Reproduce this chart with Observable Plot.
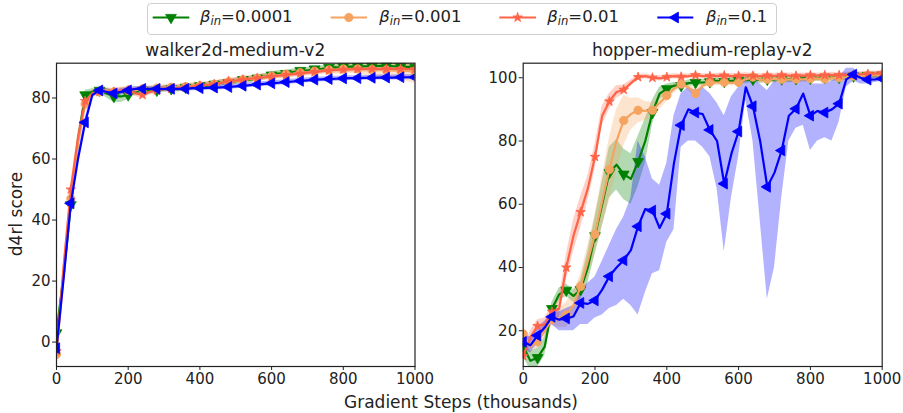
<!DOCTYPE html>
<html><head><meta charset="utf-8">
<script src="https://cdn.jsdelivr.net/npm/d3@7"></script>
<script src="https://cdn.jsdelivr.net/npm/@observablehq/plot@0.6"></script>
<style>
body{margin:0;background:#fff;font-family:"DejaVu Sans",sans-serif;color:#222;}
#root{position:relative;width:903px;height:413px;overflow:hidden;background:#fff;}
.abs{position:absolute;white-space:nowrap;}
.title{font-size:17px;text-align:center;line-height:20px;}
.lg{font-size:16.5px;line-height:20px;top:7px;}
.lg sub{font-size:0.7em;font-style:italic;vertical-align:-0.25em;}
</style></head><body><div id="root"></div>
<script>
// ---------- data ----------
const steps = [0,20,40,60,80,100,120,140,160,180,200,220,240,260,280,300,320,340,360,380,400,420,440,460,480,500,520,540,560,580,600,620,640,660,680,700,720,740,760,780,800,820,840,860,880,900,920,940,960,980,1000];
const seriesLabels = ["0.0001","0.001","0.01","0.1"];
const xTicks = [0,200,400,600,800,1000];
const walkerTicks = [0,20,40,60,80];
const hopperTicks = [20,40,60,80,100];

// walker2d-medium-v2
const walkerGreen = [3,22,45,66,81,82,82.5,81.5,80.5,80.5,81,82,82.5,82.5,82.5,83,83,83,83.5,83.5,84,84,84.5,85,85,85.5,86,86,86.5,87,87.5,88,88,88.5,89,89,89.5,89.5,90,90,90.2,90.3,90.3,90.4,90.4,90.5,90.5,90.4,90.3,90.2,90];
const walkerOrange = [-4,22,47,65,78,81.5,82,82.5,82,82.5,82.5,82.5,83,83,83.2,83.4,83.5,83.5,83.7,84,84,84.3,84.5,85,85.3,85.5,86,86.2,86.5,87,87.2,87.5,87.8,88,88.3,88.5,88.8,89,89.2,89.3,89.5,89.5,89.5,89.4,89.3,89.2,89.2,89,89,88.8,88.7];
const walkerRed = [-3,25,50,67,79,81.5,82,82,82,82.5,82.5,81.5,81,82,82.5,83,83,83.3,83.5,83.8,84,84.3,84.5,85,85.5,85.7,86,86.3,86.5,86.8,87,87.3,87.5,87.8,88,88.3,88.5,88.8,89,89.2,89.3,89.4,89.5,89.5,89.5,89.5,89.5,89.5,89.5,89.5,89.5];
const walkerBlue = [-2,21,45.5,60,72,81,82.5,82,81.5,82,82.5,83,83,83,83,83,83,83,83,83.2,83.2,83.3,83.4,83.5,83.6,83.8,84,84.2,84.4,84.6,84.8,85,85.2,85.4,85.6,85.8,86,86.1,86.2,86.3,86.4,86.5,86.5,86.6,86.6,86.7,86.7,86.7,86.8,86.8,86.8];
const walkerGreenSd = [1.5,2,2,2,1.5,1,1,1.5,2,2,1.5,1,1,1,1,1,1,1,1,1,1,1,1,1,1,1,1,1,1,1,1,1,1,1,1,1,1,1,1,1,1,1,1,1,1,1,1,1,1,1,1];
const walkerOrangeSd = [1.5,2,2,2,1.5,1,1,1,1,1,1,1,1,1,1,1,1,1,1,1,1,1,1,1,1,1,1,1,1,1,1,1,1,1,1,1,1,1,1.2,1.5,1.5,1.5,1.5,2,2.5,3,3,3,3,3.5,4];
const walkerRedSd = [1.5,2,2,2,1.5,1,1,1,1,1,1,1,1.2,1,1,1,1,1,1,1,1,1,1,1,1,1,1,1,1,1,1,1,1,1,1,1,1,1,1,1,1,1,1,1,1,1,1,1,1,1,1];
const walkerBlueSd = [1.5,2,2,2,1.5,1,1,1,1,1,1,0.8,0.8,0.8,0.8,0.8,0.8,0.8,0.8,0.8,0.8,0.8,0.8,0.8,0.8,0.8,0.8,0.8,0.8,0.8,0.8,0.8,0.8,0.8,0.8,0.8,0.8,0.8,0.8,0.8,0.8,0.8,0.8,0.8,0.8,0.8,0.8,0.8,0.8,0.8,0.8];

// hopper-medium-replay-v2
const hopperGreen = [15,10.5,11.5,15,27,31.5,32.8,31,33,40,50,60,70,72.5,69.5,68,73.5,80,89,95,96.5,97.5,97.5,98.3,98.5,98.5,98.7,99,98.8,99,99.2,99.3,99.5,99.3,99.5,99.4,99.6,99.5,99.7,99.8,99.8,99.9,100,100,100.1,100.3,100.5,100.6,100.7,100.8,100.8];
const hopperOrange = [19,15,16.5,20,23.5,24,25,28,34,42,50.5,61,71,80,86.5,88.5,89.7,89.5,89.7,92,94.4,96.5,98,97,95,97.5,98.6,98.5,98.6,98.4,98.6,99.5,100.2,99.3,99.5,99.6,99.5,99.4,99.6,99.5,99.7,99.8,99.6,99.9,100,100.2,100.5,100.6,100.7,100.8,100.9];
const hopperRed = [12,18,21.5,22,26,27,40,50,57.5,65,75,88,92.5,95.5,96.2,98.3,100.2,100.5,100,99.8,100.2,100.5,100.3,100.5,100.8,100.5,100.5,100.6,100.7,100.5,100.6,100.8,100.6,100.5,100.7,100.6,100.8,100.7,100.6,100.7,100.8,100.7,100.8,100.9,100.8,100.9,101,101.1,101.2,101.3,101.4];
const hopperBlue = [16.5,15.4,18.5,21,24.4,23.5,23.9,24.5,28.8,28.5,29.6,33,37.2,40,42.3,45.5,53,58.5,58,52.5,57,73,85,90,89,88.5,83.5,80,66.5,76,83,97,91,80,65.5,70,77,88,90.2,95,88,89.5,89,90,91.8,99.5,101,100,99.4,99.5,99.7];
const hopperGreenSd = [3,3,3,3,2,2,2,2,3,5,6,7,8,8,8,8,8,7,4,2,1.5,1,1,1,1,1,1,1,1,1,1,1,1,1,1,1,1,1,1,1,1,1,1,1,1,1,1,1,1,1,1];
const hopperOrangeSd = [2.5,2,2,2,2,3,4,4,4,5,6,8,10,10,8,5,4,3,2.5,2,2,1.5,1,1,1.5,1,1,1,1,1,1,1,1,1,1,1,1,1,1,1,1,1,1,1,1,1,1,1,1,1,1];
const hopperRedSd = [2,2,2,2,2,3,4,5,5,4,4,3,2.5,2,1.5,1,0.8,0.8,0.8,0.8,0.8,0.8,0.8,0.8,0.8,0.8,0.8,0.8,0.8,0.8,0.8,0.8,0.8,0.8,0.8,0.8,0.8,0.8,0.8,0.8,0.8,0.8,0.8,0.8,0.8,0.8,0.8,0.8,0.8,0.8,0.8];
const hopperBlueLo = [14,13,16,19,22,20,20,20,22,22,24,25,27,28,30,28,25,32,38,39,48,52,78,80,80,78,75,65,45,62,75,93,80,55,30,40,62,80,84,85,77,80,81,80,86,97,99,98,98,98.5,99];
const hopperBlueHi = [19,18,21,23,26,26,27,28,33,35,37,42,47,52,56,62,80,75,68,66,73,88,95,97,96,97,95,92,88,94,97,100,100,98,96,99,98,99,99,101,98,98,98,99,100,103,103,101,100.5,100.5,100.5];

// ---------- styling ----------
const colors = ["#008000","#f4a460","#ff6347","#0000ff"];
const s3 = Math.sqrt(3);
const triDown = {draw(c, size){const y = Math.sqrt(size/(s3*3)); c.moveTo(0, 2*y); c.lineTo(-s3*y, -y); c.lineTo(s3*y, -y); c.closePath();}};
const triLeft = {draw(c, size){const y = Math.sqrt(size/(s3*3)); c.moveTo(-2*y, 0); c.lineTo(y, -s3*y); c.lineTo(y, s3*y); c.closePath();}};
const symbols = [triDown, d3.symbolCircle, d3.symbolStar, triLeft];
const radii = [4, 4.2, 3.0, 4];

const root = document.getElementById("root");

function panel({left, width, mL, mR, yDomain, yTicks, ys, los, his}) {
  const marks = [];
  const datas = ys.map((y, k) => steps.map((x, i) => ({x, y: y[i], lo: los[k][i], hi: his[k][i]})));
  datas.forEach((d, k) => marks.push(Plot.areaY(d, {x: "x", y1: "lo", y2: "hi", fill: colors[k], fillOpacity: 0.3, clip: true})));
  datas.forEach((d, k) => {
    marks.push(Plot.line(d, {x: "x", y: "y", stroke: colors[k], strokeWidth: 2.2, clip: true}));
    marks.push(Plot.dot(d.filter((_, i) => i % 2 === 0), {x: "x", y: "y", symbol: symbols[k], r: radii[k], fill: colors[k], stroke: colors[k], strokeWidth: 0.8, clip: true}));
  });
  marks.push(Plot.axisX({ticks: xTicks, tickSize: 4, tickPadding: 3, tickFormat: d => String(d), label: null}));
  marks.push(Plot.axisY({ticks: yTicks, tickSize: 4, tickPadding: 2, tickFormat: d => String(d), label: null}));
  marks.push(Plot.frame({stroke: "#222", strokeWidth: 1.2}));
  const svg = Plot.plot({
    width, height: 390, marginLeft: mL, marginRight: mR, marginTop: 62.7, marginBottom: 24,
    x: {domain: [0, 1000]}, y: {domain: yDomain},
    style: {fontSize: "15px", fontFamily: "DejaVu Sans", color: "#222", background: "transparent", overflow: "visible"},
    marks
  });
  svg.style.position = "absolute";
  svg.style.left = left + "px";
  svg.style.top = "0px";
  root.appendChild(svg);
}

const sub = (a, b) => a.map((v, i) => v - b[i]);
const add = (a, b) => a.map((v, i) => v + b[i]);

const wy = [walkerGreen, walkerOrange, walkerRed, walkerBlue];
const wsd = [walkerGreenSd, walkerOrangeSd, walkerRedSd, walkerBlueSd];
panel({left: 0, width: 430, mL: 56, mR: 15.5, yDomain: [-8, 91.4], yTicks: walkerTicks,
  ys: wy, los: wy.map((y, k) => sub(y, wsd[k])), his: wy.map((y, k) => add(y, wsd[k]))});

const hy = [hopperGreen, hopperOrange, hopperRed, hopperBlue];
const hsd = [hopperGreenSd, hopperOrangeSd, hopperRedSd];
panel({left: 460, width: 443, mL: 62.7, mR: 21.3, yDomain: [8.7, 104.6], yTicks: hopperTicks,
  ys: hy,
  los: [0,1,2].map(k => sub(hy[k], hsd[k])).concat([hopperBlueLo]),
  his: [0,1,2].map(k => add(hy[k], hsd[k])).concat([hopperBlueHi])});

// ---------- text ----------
function addDiv(html, css, cls) {
  const d = document.createElement("div");
  d.className = "abs " + (cls || "");
  d.innerHTML = html;
  Object.assign(d.style, css);
  root.appendChild(d);
  return d;
}
addDiv("walker2d-medium-v2", {left: "56px", width: "358.5px", top: "40px"}, "title");
addDiv("hopper-medium-replay-v2", {left: "522.7px", width: "359px", top: "40px"}, "title");
addDiv("d4rl score", {left: "16px", top: "214px", fontSize: "17px", transform: "translate(-50%,-50%) rotate(-90deg)", lineHeight: "20px"});
addDiv("Gradient Steps (thousands)", {left: "461px", top: "402px", fontSize: "17px", transform: "translate(-50%,-50%)", lineHeight: "20px"});

// ---------- legend ----------
addDiv("", {left: "146.5px", top: "2.5px", width: "630px", height: "32px", border: "1px solid #cfcfcf", borderRadius: "4px", boxSizing: "border-box"});
const handles = [[152.7, 189.3], [330.7, 367], [499.3, 536], [657.3, 693.3]];
const textX = [200, 379.3, 547.3, 706];
const lsvg = d3.select(root).append("svg").attr("width", 903).attr("height", 40)
  .style("position", "absolute").style("left", "0px").style("top", "0px");
handles.forEach(([a, b], k) => {
  lsvg.append("line").attr("x1", a).attr("x2", b).attr("y1", 17.5).attr("y2", 17.5)
    .attr("stroke", colors[k]).attr("stroke-width", 2.2);
  lsvg.append("path").attr("transform", `translate(${(a + b) / 2},17.5)`)
    .attr("d", d3.symbol(symbols[k], Math.PI * radii[k] * radii[k])())
    .attr("fill", colors[k]).attr("stroke", colors[k]).attr("stroke-width", 0.8);
  addDiv(`<i>β</i><sub>in</sub>=${seriesLabels[k]}`, {left: textX[k] + "px"}, "lg");
});
</script></body></html>
